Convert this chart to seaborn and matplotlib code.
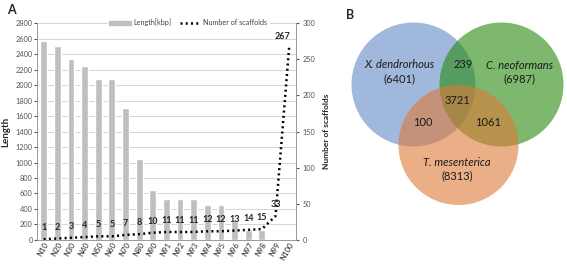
import numpy as np
import pandas as pd
import matplotlib
matplotlib.use('Agg')
import matplotlib.pyplot as plt
from matplotlib.patches import Circle, Patch
from matplotlib.lines import Line2D
import seaborn as sns

# panel A data
categories = ['N10', 'N20', 'N30', 'N40', 'N50', 'N60', 'N70', 'N80', 'N90', 'N91',
              'N92', 'N93', 'N94', 'N95', 'N96', 'N97', 'N98', 'N99', 'N100']
length_kbp = [2570, 2500, 2340, 2250, 2080, 2080, 1710, 1050, 650, 530,
              530, 530, 450, 450, 240, 130, 130, 0, 0]
scaffolds = [1, 2, 3, 4, 5, 5, 7, 8, 10, 11, 11, 11, 12, 12, 13, 14, 15, 33, 267]

# panel B data
species = ['X. dendrorhous', 'C. neoformans', 'T. mesenterica']
species_totals = [6401, 6987, 8313]
overlap_labels = ['XC', 'XCT', 'XT', 'CT']
overlap_counts = [239, 3721, 100, 1061]

sns.set_style('white')
plt.rcParams['font.family'] = ['Lato', 'DejaVu Sans']

fig = plt.figure(figsize=(5.67, 2.69), dpi=100)
ax = fig.add_axes([0.065, 0.108, 0.457, 0.806])

df = pd.DataFrame({'cat': categories, 'len': length_kbp})
sns.barplot(data=df, x='cat', y='len', color='#bfbfbf', width=0.5,
            saturation=1, ax=ax, zorder=2)
ax.set_ylim(0, 2800)
ax.set_yticks(np.arange(0, 2801, 200))
ax.yaxis.grid(True, color='#cfcfcf', lw=0.6, zorder=0)
ax.set_axisbelow(True)
ax.set_xlim(-0.5, len(categories) - 0.5)
ax.set_xlabel('')
ax.set_ylabel('Length', fontsize=7, fontweight='bold', labelpad=4)
ax.tick_params(axis='y', labelsize=5.3, length=2, pad=1, colors='#555555')
ax.tick_params(axis='x', labelsize=5.6, length=0, pad=1)
for lab in ax.get_xticklabels():
    lab.set_rotation(60)
    lab.set_ha('right')
    lab.set_rotation_mode('anchor')
for s in ['left', 'bottom', 'right']:
    ax.spines[s].set_color('#999999')
    ax.spines[s].set_linewidth(0.7)
ax.spines['top'].set_visible(False)

ax2 = ax.twinx()
xpos = np.arange(len(categories))
sns.lineplot(x=xpos, y=scaffolds, ax=ax2, color='black', lw=1.8,
             linestyle=(0, (0.8, 1.3)), zorder=3)
ax2.set_ylim(0, 300)
ax2.set_yticks(np.arange(0, 301, 50))
ax2.tick_params(axis='y', labelsize=5.3, length=2, pad=3, colors='#555555')
ax2.set_ylabel('Number of scaffolds', fontsize=6, fontweight='bold', labelpad=5)
for s in ax2.spines.values():
    s.set_visible(False)
ax2.spines['right'].set_visible(True)
ax2.spines['right'].set_color('#999999')
ax2.spines['right'].set_linewidth(0.7)

for i, v in enumerate(scaffolds):
    off = (-5, 4) if i == len(scaffolds) - 1 else (0, 5)
    ax2.annotate(str(v), (xpos[i], v), xytext=off, textcoords='offset points',
                 ha='center', va='bottom', fontsize=6.5, fontweight='bold')

handles = [Patch(color='#bfbfbf', label='Length[kbp]'),
           Line2D([], [], color='black', lw=1.8, linestyle=(0, (0.8, 1.3)),
                  label='Number of scaffolds')]
leg = ax2.legend(handles=handles, loc='upper right', bbox_to_anchor=(0.91, 1.045),
                 ncol=2, fontsize=5.2, frameon=True, framealpha=1, edgecolor='white',
                 handlelength=3, handleheight=0.5, columnspacing=1.2,
                 borderpad=0.2, handletextpad=0.3)
for t in leg.get_texts():
    t.set_color('#444444')

fig.text(7 / 567, 1 - 10 / 269, 'A', fontsize=9, fontweight='bold', va='center')
fig.text(346 / 567, 1 - 15 / 269, 'B', fontsize=9, fontweight='bold', va='center')

# panel B: Venn diagram drawn in pixel coordinates
axv = fig.add_axes([0, 0, 1, 1], zorder=5)
axv.set_xlim(0, 567)
axv.set_ylim(269, 0)
axv.axis('off')
axv.patch.set_alpha(0)
circle_colors = ['#618ac5', '#268a0d', '#de7a37']
centers = [(413.5, 84.5), (501.5, 84.5), (458.5, 145)]
radii = [62, 62, 60]
for c, r, col in zip(centers, radii, circle_colors):
    axv.add_patch(Circle(c, r, facecolor=col, alpha=0.6, edgecolor='none'))

name_pos = [(400, 65), (520, 65), (457, 162)]
for (x, y), name, tot in zip(name_pos, species, species_totals):
    axv.text(x, y, name, ha='center', va='center', fontsize=8, style='italic',
             color='#1a1a1a')
    axv.text(x, y + 14, f'({tot})', ha='center', va='center', fontsize=8,
             color='#1a1a1a')

ov_pos = {'XC': (463, 65), 'XCT': (457, 100), 'XT': (423, 122), 'CT': (488, 122)}
for lab, cnt in zip(overlap_labels, overlap_counts):
    x, y = ov_pos[lab]
    axv.text(x, y, str(cnt), ha='center', va='center', fontsize=8, color='#1a1a1a')

fig.savefig('out.png', dpi=100)
